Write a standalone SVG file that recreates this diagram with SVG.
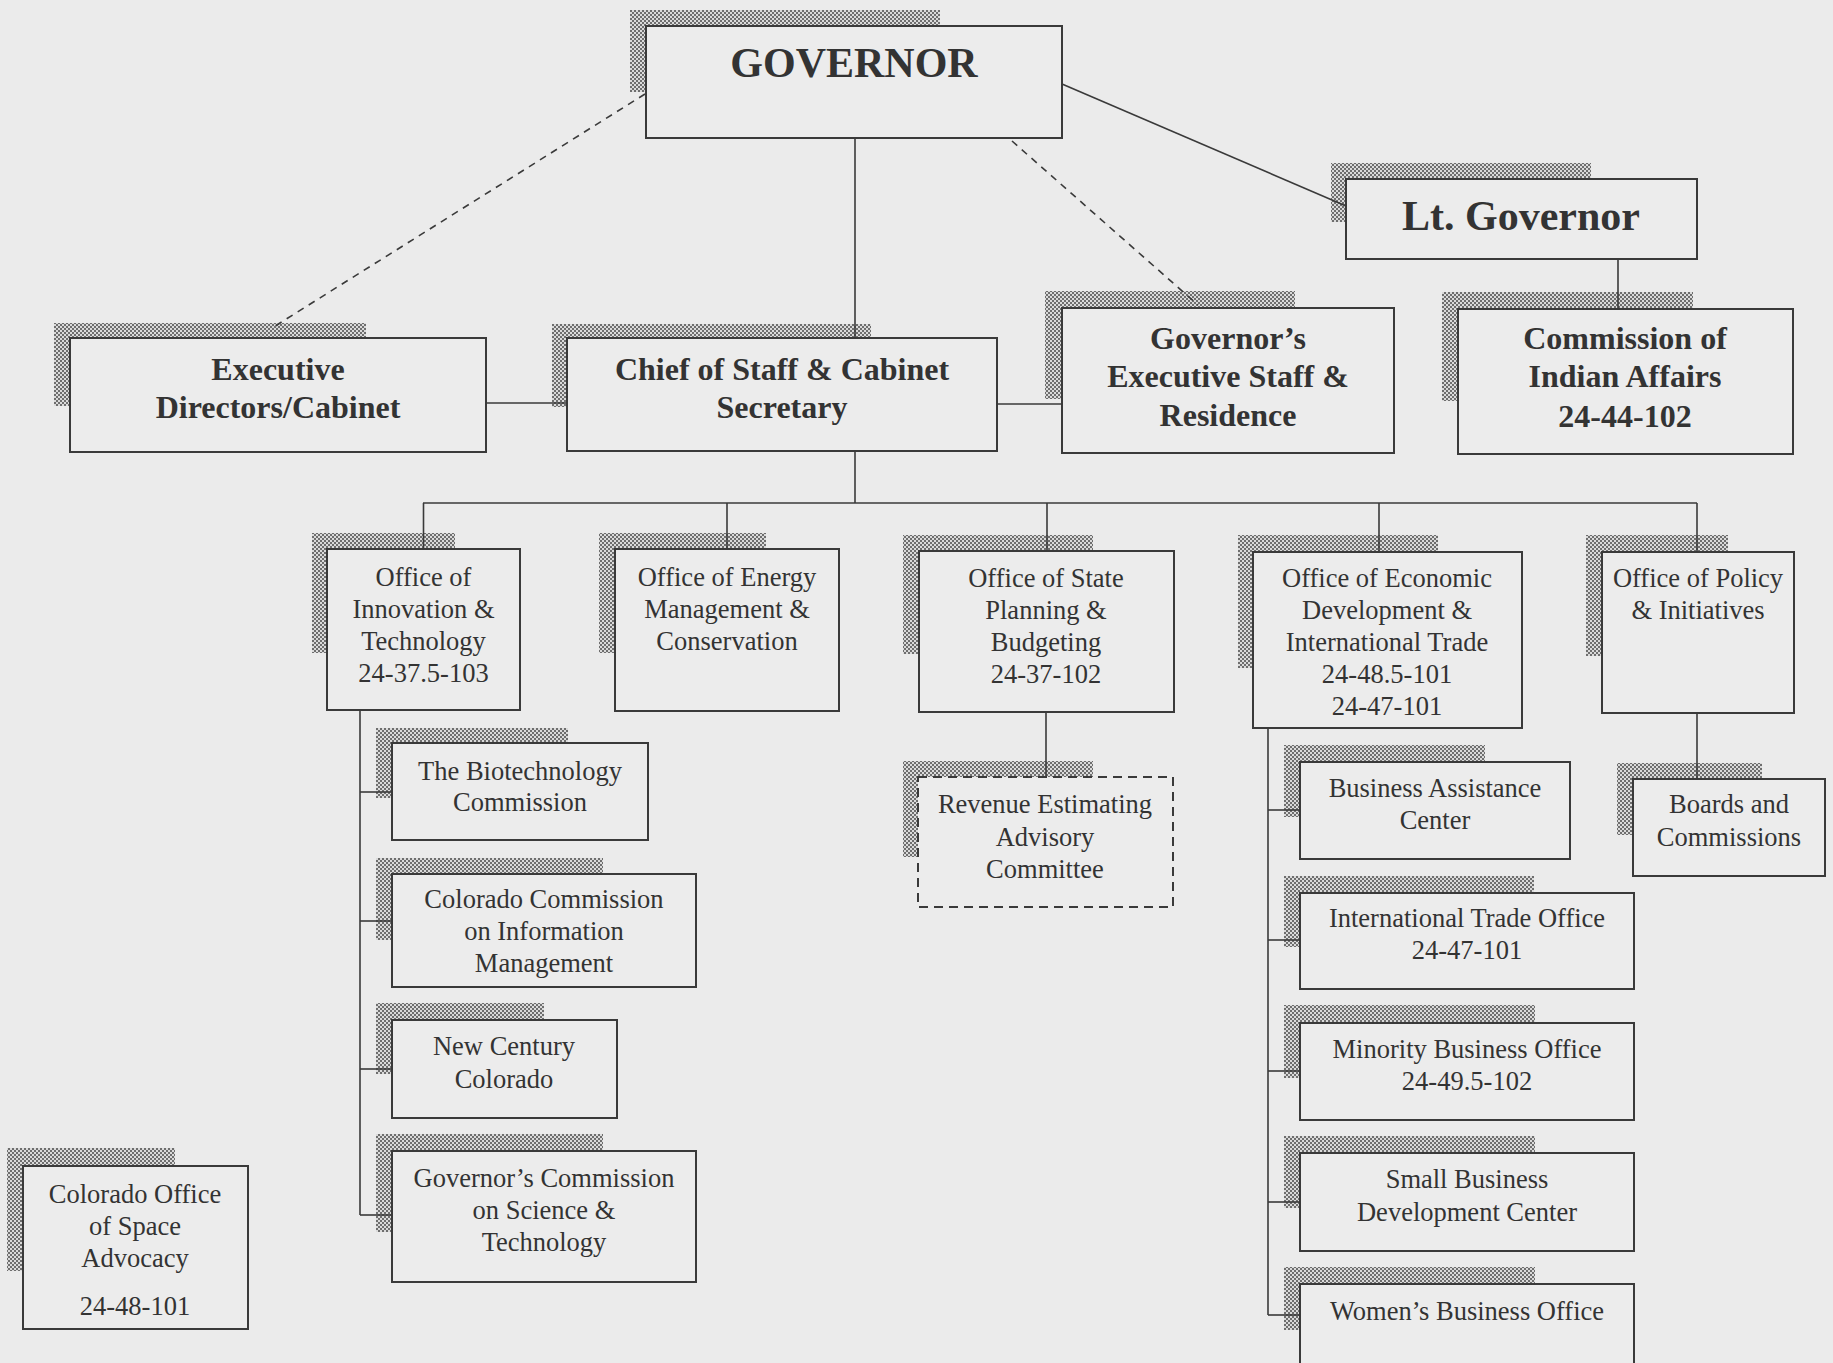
<svg xmlns="http://www.w3.org/2000/svg" width="1833" height="1363" viewBox="0 0 1833 1363">
<defs>
<pattern id="chk" patternUnits="userSpaceOnUse" width="4" height="4">
<rect width="4" height="4" fill="#dadada"/>
<rect width="2" height="2" fill="#6e6e6e"/>
<rect x="2" y="2" width="2" height="2" fill="#6e6e6e"/>
</pattern>
<style>
.sh{fill:url(#chk)}
.box{fill:#ececec;stroke:#3a3a3a;stroke-width:2}
.dbox{fill:#ececec;stroke:#3a3a3a;stroke-width:2;stroke-dasharray:9 6}
text{font-family:"Liberation Serif","Times New Roman",serif;fill:#333;text-anchor:middle}
.big{font-size:42px;font-weight:bold}
.b{font-size:32px;font-weight:bold}
.r{font-size:26.5px}
.conn line{stroke:#3a3a3a;stroke-width:1.6;fill:none}
.conn .d{stroke-dasharray:7 6}
</style>
</defs>
<rect width="1833" height="1363" fill="#ebebeb"/>

<g id="governor">
<rect class="sh" x="630" y="10" width="310" height="82"/>
<rect class="box" x="646" y="26" width="416" height="112"/>
<text class="big" x="854" y="77">GOVERNOR</text>
</g>
<g id="lt-governor">
<rect class="sh" x="1331" y="163" width="260" height="59"/>
<rect class="box" x="1346" y="179" width="351" height="80"/>
<text class="big" x="1521" y="230">Lt. Governor</text>
</g>
<g id="exec-directors">
<rect class="sh" x="54" y="323" width="312" height="83"/>
<rect class="box" x="70" y="338" width="416" height="114"/>
<text class="b" x="278" y="380">Executive</text>
<text class="b" x="278" y="418">Directors/Cabinet</text>
</g>
<g id="chief-of-staff">
<rect class="sh" x="552" y="324" width="319" height="83"/>
<rect class="box" x="567" y="338" width="430" height="113"/>
<text class="b" x="782" y="380">Chief of Staff &amp; Cabinet</text>
<text class="b" x="782" y="418">Secretary</text>
</g>
<g id="gov-exec-staff">
<rect class="sh" x="1045" y="291" width="250" height="108"/>
<rect class="box" x="1062" y="308" width="332" height="145"/>
<text class="b" x="1228" y="349">Governor’s</text>
<text class="b" x="1228" y="387">Executive Staff &amp;</text>
<text class="b" x="1228" y="426">Residence</text>
</g>
<g id="indian-affairs">
<rect class="sh" x="1442" y="292" width="251" height="109"/>
<rect class="box" x="1458" y="309" width="335" height="145"/>
<text class="b" x="1625" y="349">Commission of</text>
<text class="b" x="1625" y="387">Indian Affairs</text>
<text class="b" x="1625" y="427">24-44-102</text>
</g>

<g id="innovation">
<rect class="sh" x="312" y="533" width="143" height="120"/>
<rect class="box" x="327" y="549" width="193" height="161"/>
<text class="r" x="423.5" y="586">Office of</text>
<text class="r" x="423.5" y="618">Innovation &amp;</text>
<text class="r" x="423.5" y="650">Technology</text>
<text class="r" x="423.5" y="682">24-37.5-103</text>
</g>
<g id="energy">
<rect class="sh" x="599" y="533" width="167" height="120"/>
<rect class="box" x="615" y="549" width="224" height="162"/>
<text class="r" x="727" y="586">Office of Energy</text>
<text class="r" x="727" y="618">Management &amp;</text>
<text class="r" x="727" y="650">Conservation</text>
</g>
<g id="state-planning">
<rect class="sh" x="903" y="535" width="190" height="119"/>
<rect class="box" x="919" y="551" width="255" height="161"/>
<text class="r" x="1046" y="587">Office of State</text>
<text class="r" x="1046" y="619">Planning &amp;</text>
<text class="r" x="1046" y="651">Budgeting</text>
<text class="r" x="1046" y="683">24-37-102</text>
</g>
<g id="economic-dev">
<rect class="sh" x="1238" y="535" width="200" height="133"/>
<rect class="box" x="1253" y="552" width="269" height="176"/>
<text class="r" x="1387" y="587">Office of Economic</text>
<text class="r" x="1387" y="619">Development &amp;</text>
<text class="r" x="1387" y="651">International Trade</text>
<text class="r" x="1387" y="683">24-48.5-101</text>
<text class="r" x="1387" y="715">24-47-101</text>
</g>
<g id="policy">
<rect class="sh" x="1586" y="535" width="142" height="121"/>
<rect class="box" x="1602" y="552" width="192" height="161"/>
<text class="r" x="1698" y="587">Office of Policy</text>
<text class="r" x="1698" y="619">&amp; Initiatives</text>
</g>

<g id="biotech">
<rect class="sh" x="376" y="728" width="192" height="70"/>
<rect class="box" x="392" y="743" width="256" height="97"/>
<text class="r" x="520" y="780">The Biotechnology</text>
<text class="r" x="520" y="811">Commission</text>
</g>
<g id="info-mgmt">
<rect class="sh" x="376" y="858" width="227" height="82"/>
<rect class="box" x="392" y="874" width="304" height="113"/>
<text class="r" x="544" y="908">Colorado Commission</text>
<text class="r" x="544" y="940">on Information</text>
<text class="r" x="544" y="972">Management</text>
</g>
<g id="new-century">
<rect class="sh" x="376" y="1003" width="168" height="71"/>
<rect class="box" x="392" y="1020" width="225" height="98"/>
<text class="r" x="504" y="1055">New Century</text>
<text class="r" x="504" y="1088">Colorado</text>
</g>
<g id="science-tech">
<rect class="sh" x="376" y="1134" width="227" height="98"/>
<rect class="box" x="392" y="1151" width="304" height="131"/>
<text class="r" x="544" y="1187">Governor’s Commission</text>
<text class="r" x="544" y="1219">on Science &amp;</text>
<text class="r" x="544" y="1251">Technology</text>
</g>
<g id="space-advocacy">
<rect class="sh" x="7" y="1148" width="168" height="123"/>
<rect class="box" x="23" y="1166" width="225" height="163"/>
<text class="r" x="135" y="1203">Colorado Office</text>
<text class="r" x="135" y="1235">of Space</text>
<text class="r" x="135" y="1267">Advocacy</text>
<text class="r" x="135" y="1315">24-48-101</text>
</g>
<g id="revenue">
<rect class="sh" x="903" y="761" width="190" height="96"/>
<rect class="dbox" x="918" y="777" width="255" height="130"/>
<text class="r" x="1045" y="813">Revenue Estimating</text>
<text class="r" x="1045" y="846">Advisory</text>
<text class="r" x="1045" y="878">Committee</text>
</g>
<g id="boards">
<rect class="sh" x="1617" y="763" width="145" height="72"/>
<rect class="box" x="1633" y="779" width="192" height="97"/>
<text class="r" x="1729" y="813">Boards and</text>
<text class="r" x="1729" y="846">Commissions</text>
</g>
<g id="business-assistance">
<rect class="sh" x="1284" y="745" width="201" height="72"/>
<rect class="box" x="1300" y="762" width="270" height="97"/>
<text class="r" x="1435" y="797">Business Assistance</text>
<text class="r" x="1435" y="829">Center</text>
</g>
<g id="intl-trade">
<rect class="sh" x="1284" y="876" width="250" height="71"/>
<rect class="box" x="1300" y="893" width="334" height="96"/>
<text class="r" x="1467" y="927">International Trade Office</text>
<text class="r" x="1467" y="959">24-47-101</text>
</g>
<g id="minority">
<rect class="sh" x="1284" y="1005" width="251" height="73"/>
<rect class="box" x="1300" y="1023" width="334" height="97"/>
<text class="r" x="1467" y="1058">Minority Business Office</text>
<text class="r" x="1467" y="1090">24-49.5-102</text>
</g>
<g id="small-business">
<rect class="sh" x="1284" y="1136" width="251" height="72"/>
<rect class="box" x="1300" y="1153" width="334" height="98"/>
<text class="r" x="1467" y="1188">Small Business</text>
<text class="r" x="1467" y="1221">Development Center</text>
</g>
<g id="womens-business">
<rect class="sh" x="1284" y="1267" width="251" height="63"/>
<rect class="box" x="1300" y="1284" width="334" height="100"/>
<text class="r" x="1467" y="1320">Women’s Business Office</text>
</g>

<g id="connectors" class="conn">
<line x1="855" y1="139" x2="855" y2="338"/>
<line x1="1062" y1="84" x2="1346" y2="206"/>
<line class="d" x1="645" y1="94" x2="272" y2="328"/>
<line class="d" x1="1012" y1="141" x2="1198" y2="305"/>
<line x1="486" y1="403" x2="567" y2="403"/>
<line x1="997" y1="404" x2="1062" y2="404"/>
<line x1="1618" y1="259" x2="1618" y2="309"/>
<line x1="855" y1="451" x2="855" y2="503"/>
<line x1="423" y1="503" x2="1697" y2="503"/>
<line x1="423.5" y1="503" x2="423.5" y2="549"/>
<line x1="727" y1="503" x2="727" y2="549"/>
<line x1="1047" y1="503" x2="1047" y2="551"/>
<line x1="1379" y1="503" x2="1379" y2="552"/>
<line x1="1697" y1="503" x2="1697" y2="552"/>
<line x1="360" y1="710" x2="360" y2="1215"/>
<line x1="360" y1="792" x2="392" y2="792"/>
<line x1="360" y1="921" x2="392" y2="921"/>
<line x1="360" y1="1069" x2="392" y2="1069"/>
<line x1="360" y1="1215" x2="392" y2="1215"/>
<line x1="1046" y1="712" x2="1046" y2="777"/>
<line x1="1697" y1="713" x2="1697" y2="779"/>
<line x1="1268" y1="728" x2="1268" y2="1315"/>
<line x1="1268" y1="810" x2="1300" y2="810"/>
<line x1="1268" y1="940" x2="1300" y2="940"/>
<line x1="1268" y1="1071" x2="1300" y2="1071"/>
<line x1="1268" y1="1202" x2="1300" y2="1202"/>
<line x1="1268" y1="1315" x2="1300" y2="1315"/>
</g>
</svg>
